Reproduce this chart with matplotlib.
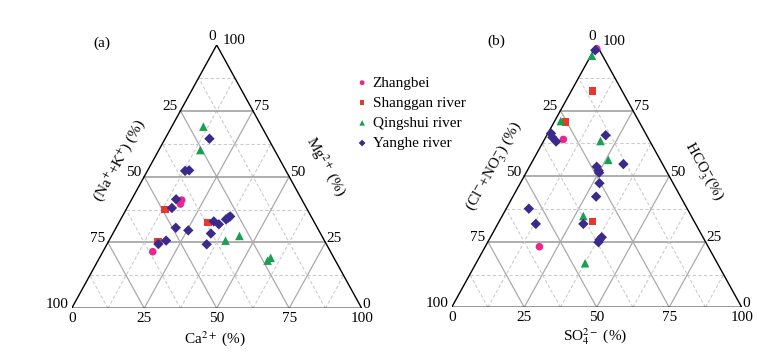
import matplotlib
matplotlib.use("Agg")
import matplotlib.pyplot as plt

plt.rcParams['font.family'] = ['Liberation Serif', 'DejaVu Serif']
plt.rcParams['mathtext.fontset'] = 'stix'

# ---- data (percent) ----
# cation triangle: Ca2+, Mg2+  (Na+ + K+ = 100 - Ca - Mg)
zb_ca = [17.4, 17.7, 17.2]
zb_mg = [41.1, 39.6, 21.5]
sg_ca = [13.4, 30.6, 17.1]
sg_mg = [37.6, 32.7, 25.4]
qs_ca = [10.9, 14.3, 44.1, 40.2, 58.5, 59.0]
qs_mg = [69.0, 60.1, 27.5, 25.7, 18.1, 19.2]
yh_ca = [15.3, 13.0, 14.3, 15.3, 15.5, 20.6, 25.4, 32.5, 34.8, 36.3, 36.8, 37.2, 33.8, 34.4, 19.7, 17.7]
yh_mg = [64.4, 52.2, 52.4, 41.4, 38.1, 30.6, 29.6, 33.0, 31.9, 33.8, 34.4, 34.9, 28.4, 24.3, 25.7, 24.4]

# anion triangle: SO4 2-, HCO3-  (Cl- + NO3- = 100 - SO4 - HCO3)
zb_so4 = [0.8, 6.5, 18.7]
zb_hco3 = [98.5, 64.0, 23.1]
sg_so4 = [7.3, 4.0, 32.2]
sg_hco3 = [82.5, 70.6, 32.7]
qs_so4 = [0.4, 2.1, 19.6, 25.9, 28.0, 37.6]
qs_hco3 = [95.9, 71.0, 63.4, 56.2, 34.8, 16.8]
yh_so4 = [0.5, 1.1, 2.3, 4.4, 20.3, 31.9, 23.2, 24.6, 25.2, 27.3, 28.7, 7.8, 13.1, 29.5, 38.4, 38.1, 38.2]
yh_hco3 = [98.0, 66.3, 64.8, 63.2, 65.6, 54.6, 53.6, 52.1, 51.3, 47.3, 42.2, 37.6, 31.8, 31.8, 26.7, 25.7, 24.8]

names = ['Zhangbei', 'Shanggan river', 'Qingshui river', 'Yanghe river']
colors = ['#e8288c', '#e8392e', '#17a050', '#3b2a8c']
markers = ['o', 's', '^', 'D']
msizes = [30, 28, 38, 28]

ticks = [0, 25, 50, 75, 100]
fs = 11


def tern(b, t):
    # b: bottom-right component (%), t: top component (%)
    x = [(bi + 0.5 * ti) / 100.0 for bi, ti in zip(b, t)]
    y = [ti / 100.0 for ti in t]
    return x, y


def draw_triangle(ax, bottom_lab, left_lab, right_lab, panel, lab_pos):
    ax.set_xlim(0, 1)
    ax.set_ylim(0, 1)
    ax.axis('off')
    # grid
    for lv in [0.125, 0.25, 0.375, 0.5, 0.625, 0.75, 0.875]:
        major = lv in (0.25, 0.5, 0.75)
        if major:
            kw = dict(color='#aaaaaa', lw=0.9, ls='-')
            kwh = dict(color='#999999', lw=1.1, ls='-')
        else:
            kw = dict(color='#cccccc', lw=0.8, ls=(0, (3, 2)))
            kwh = kw
        # constant top
        ax.plot([0.5 * lv, 1 - 0.5 * lv], [lv, lv], zorder=1, **kwh)
        # constant bottom-right
        ax.plot([lv, lv + 0.5 * (1 - lv)], [0, 1 - lv], zorder=1, **kw)
        # constant bottom-left
        ax.plot([1 - lv, 0.5 * (1 - lv)], [0, 1 - lv], zorder=1, **kw)
    ax.plot([0, 1, 0.5, 0], [0, 0, 1, 0], color='black', lw=1.0, zorder=2)

    # tick labels
    for v in ticks:
        f = v / 100.0
        ax.annotate(str(v), (f, 0), xytext=(0, -4), textcoords='offset pixels',
                    ha='center', va='top', fontsize=fs)
        # left side: value 0 at top, 100 at bottom-left
        yl = 1 - f
        if v == 0:
            off = (-1, 9)
        else:
            off = (-3, 4)
        ax.annotate(str(v), (0.5 * yl, yl), xytext=off, textcoords='offset pixels',
                    ha='right', va='center', fontsize=fs)
        # right side: value 100 at top, 0 at bottom-right
        yr = f
        off = (6, 4) if v == 100 else (1, 4)
        ax.annotate(str(v), (1 - 0.5 * yr, yr), xytext=off, textcoords='offset pixels',
                    ha='left', va='center', fontsize=fs)

    ax.text(0.494, -0.113, bottom_lab, ha='center', va='center', fontsize=fs)
    ax.text(lab_pos[0][0], lab_pos[0][1], left_lab, ha='center', va='center',
            rotation=61, fontsize=fs)
    ax.text(lab_pos[1][0], lab_pos[1][1], right_lab, ha='center', va='center',
            rotation=-61, fontsize=fs)
    ax.text(panel[1], panel[2], panel[0], ha='center', va='center', fontsize=fs)


fig = plt.figure(figsize=(7.84, 3.54), dpi=100)
W, H = 784.0, 354.0
ax1 = fig.add_axes([71.7 / W, (H - 308.3) / H, 290 / W, 263.3 / H])
ax2 = fig.add_axes([451.7 / W, (H - 307.3) / H, 290 / W, 262.3 / H])

draw_triangle(ax1, 'Ca$^{2+}$ (%)', '(Na$^{+}$+K$^{+}$) (%)', 'Mg$^{2+}$ (%)',
              ('(a)', 0.103, 1.006), ((0.167, 0.563), (0.879, 0.538)))
draw_triangle(ax2, 'SO$_4^{2-}$ (%)', '(Cl$^{-}$+NO$_3^{-}$) (%)', 'HCO$_3^{-}$(%)',
              ('(b)', 0.155, 1.016), ((0.149, 0.536), (0.867, 0.517)))

cat_sets = [(zb_ca, zb_mg), (sg_ca, sg_mg), (qs_ca, qs_mg), (yh_ca, yh_mg)]
an_sets = [(zb_so4, zb_hco3), (sg_so4, sg_hco3), (qs_so4, qs_hco3), (yh_so4, yh_hco3)]

handles = []
for i in range(4):
    x, y = tern(*cat_sets[i])
    h = ax1.scatter(x, y, s=msizes[i], marker=markers[i], color=colors[i],
                    edgecolors='none', zorder=3, clip_on=False, label=names[i])
    handles.append(h)
    x, y = tern(*an_sets[i])
    ax2.scatter(x, y, s=msizes[i], marker=markers[i], color=colors[i],
                edgecolors='none', zorder=3, clip_on=False)

fig.legend(handles=handles, labels=names, loc='upper left',
           bbox_to_anchor=(356 / W, 1 - 76 / H), frameon=False, fontsize=fs,
           handlelength=0.8, handletextpad=0.3, labelspacing=0.42,
           borderpad=0, borderaxespad=0, markerscale=0.65)

fig.savefig('out.png', dpi=100)
